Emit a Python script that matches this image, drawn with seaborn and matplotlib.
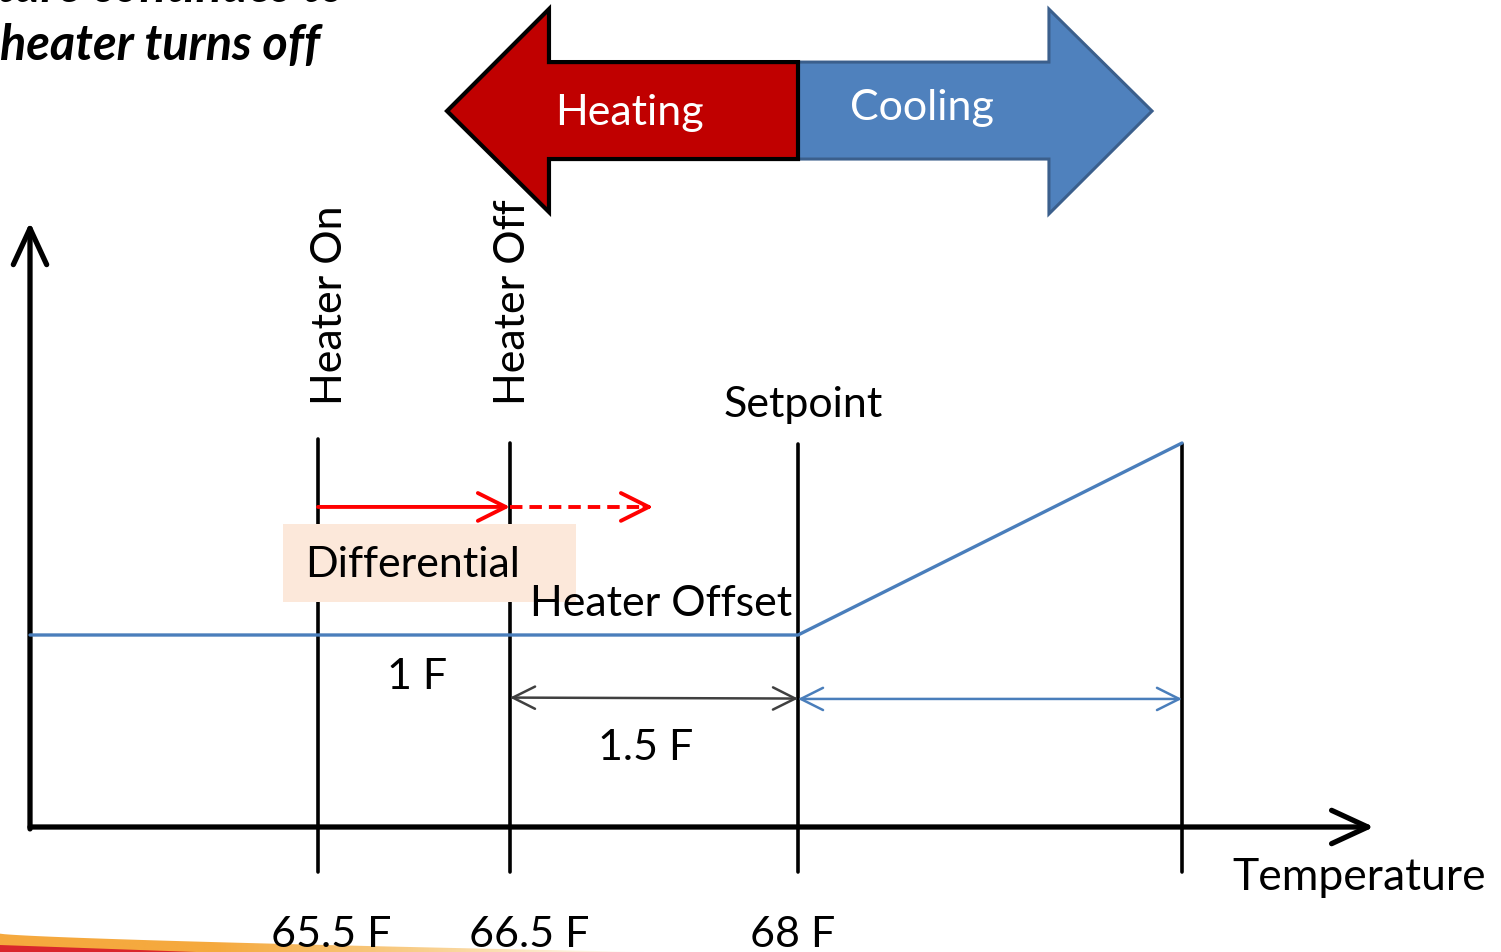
import numpy as np
import pandas as pd
import matplotlib
matplotlib.use("Agg")
import matplotlib.pyplot as plt
from matplotlib.patches import Polygon, Rectangle
from matplotlib.colors import LinearSegmentedColormap
import seaborn as sns

# temperatures on the x axis (F)
heater_on = 65.5
heater_off = 66.5
setpoint = 68.0
cooling_end = 70.0
axis_start = 64.0
axis_end = 71.0

# cooling output curve (flat, then rising after setpoint)
curve_temp = [axis_start, setpoint, cooling_end]
curve_output = [1.0, 1.0, 2.0]

marker_temps = [heater_on, heater_off, setpoint, cooling_end]
tick_labels = ["65.5 F", "66.5 F", "68 F"]
tick_label_x = [65.57, 66.6, 67.97]

# span labels
differential_label = "1 F"
offset_label = "1.5 F"

FONT = "Lato"
FS = 31

sns.set_style("white")
plt.rcParams["font.family"] = [FONT, "DejaVu Sans"]
plt.rcParams["text.color"] = "black"

fig = plt.figure(figsize=(15.01, 9.53), dpi=100)
ax = fig.add_axes([0, 0, 1, 1])
ax.set_xlim(63.84375, 71.66146)
ax.set_ylim(-0.65104, 4.3125)
ax.axis("off")

# decorative swoosh bottom-left (orange fading to white, red underneath)
sx = np.linspace(63.84, 67.2, 120)
top = -0.555 - 0.096 * ((sx - 63.84) / 3.36) ** 0.7
swoosh = Polygon(np.column_stack([np.r_[sx, sx[::-1]], np.r_[top, np.full_like(sx, -0.66)]]),
                 closed=True, facecolor="none", edgecolor="none")
ax.add_patch(swoosh)
cmap = LinearSegmentedColormap.from_list("swoosh", ["#F5A93E", "#F5A93E", "#F9D08E", "#FFFFFF"])
grad = ax.imshow(np.linspace(0, 1, 256)[None, :], cmap=cmap, aspect="auto",
                 extent=(63.84, 67.2, -0.66, -0.55), zorder=0)
grad.set_clip_path(swoosh)
sx3 = np.linspace(63.84, 65.1, 40)
top3 = -0.612 - 0.045 * ((sx3 - 63.84) / 1.26)
ax.fill_between(sx3, top3, -0.66, color="#D9262C", lw=0, zorder=1)
ax.set_xlim(63.84375, 71.66146)
ax.set_ylim(-0.65104, 4.3125)

# axes with arrows
axis_arrow = dict(arrowstyle="->,head_length=1.3,head_width=0.6",
                  lw=3.8, color="black", mutation_scale=20,
                  capstyle="round", joinstyle="round", shrinkA=0, shrinkB=0)
ax.annotate("", xy=(axis_end, 0), xytext=(axis_start, 0), arrowprops=axis_arrow)
ax.annotate("", xy=(axis_start, 3.15), xytext=(axis_start, -0.01), arrowprops=axis_arrow)

# vertical marker lines
tops = [2.02, 2.0, 1.995, 1.995]
for t, yt in zip(marker_temps, tops):
    ax.plot([t, t], [-0.234, yt], color="black", lw=2.6, zorder=3)

# output curve
df = pd.DataFrame({"temp": curve_temp, "output": curve_output})
sns.lineplot(data=df, x="temp", y="output", color="#4A7EBB", lw=2.4, ax=ax, zorder=4)

# differential box
ax.add_patch(Rectangle((65.318, 1.172), 66.844 - 65.318, 1.578 - 1.172,
                       facecolor="#FCE8DA", edgecolor="none", zorder=5))
ax.text(65.432, 1.37, "Differential", fontsize=FS, ha="left", va="center", zorder=6)

# red arrows
red_head = dict(arrowstyle="->,head_length=1.0,head_width=0.5", lw=2.8,
                color="#FF0000", mutation_scale=20, shrinkA=0, shrinkB=0,
                capstyle="round", joinstyle="round")
ax.annotate("", xy=(heater_off, 1.667), xytext=(heater_on, 1.667),
            arrowprops=red_head, zorder=6)
ax.plot([heater_off, 67.2], [1.667, 1.667], color="#FF0000", lw=2.8,
        linestyle=(0, (3.2, 1.8)), zorder=6)
ax.annotate("", xy=(67.245, 1.667), xytext=(67.2, 1.667),
            arrowprops=red_head, zorder=6)

# span arrows
ax.annotate("", xy=(setpoint, 0.669), xytext=(heater_off, 0.674),
            arrowprops=dict(arrowstyle="<->,head_length=0.8,head_width=0.4", lw=1.8,
                            color="#404040", mutation_scale=20, shrinkA=0, shrinkB=0))
ax.annotate("", xy=(cooling_end, 0.667), xytext=(setpoint, 0.667),
            arrowprops=dict(arrowstyle="<->,head_length=0.8,head_width=0.4", lw=1.8,
                            color="#4A7EBB", mutation_scale=20, shrinkA=0, shrinkB=0))

# big heating / cooling arrows
cool_x = [68.0, 69.307, 69.307, 69.844, 69.307, 69.307, 68.0]
cool_y = [3.984, 3.984, 4.26, 3.729, 3.193, 3.479, 3.479]
heat_x = [66.172, 66.703, 66.703, 68.0, 68.0, 66.703, 66.703]
heat_y = [3.729, 4.26, 3.984, 3.984, 3.479, 3.479, 3.203]
ax.add_patch(Polygon(np.column_stack([cool_x, cool_y]), closed=True,
                     facecolor="#4F81BD", edgecolor="#3B5F8C", lw=2.2, zorder=5))
ax.add_patch(Polygon(np.column_stack([heat_x, heat_y]), closed=True,
                     facecolor="#C00000", edgecolor="black", lw=3.0, zorder=6,
                     joinstyle="miter"))
ax.text(67.12, 3.725, "Heating", fontsize=FS, color="white", ha="center", va="center", zorder=7)
ax.text(68.646, 3.75, "Cooling", fontsize=FS, color="white", ha="center", va="center", zorder=7)

# labels
ax.text(65.5625, 2.203, "Heater On", fontsize=FS, rotation=90, ha="center", va="bottom")
ax.text(66.516, 2.203, "Heater Off", fontsize=FS, rotation=90, ha="center", va="bottom")
ax.text(68.026, 2.203, "Setpoint", fontsize=FS, ha="center", va="center")
ax.text(66.604, 1.165, "Heater Offset", fontsize=FS, ha="left", va="center", zorder=8)
ax.text(66.016, 0.786, differential_label, fontsize=FS, ha="center", va="center")
ax.text(67.208, 0.417, offset_label, fontsize=FS, ha="center", va="center")
ax.text(70.262, -0.26, "Temperature", fontsize=FS + 1, ha="left", va="center")
for lx, lab in zip(tick_label_x, tick_labels):
    ax.text(lx, -0.555, lab, fontsize=FS, ha="center", va="center", zorder=9)

# cut-off slide text at top-left
ax.text(65.64, 4.30, "Temperature continues to", fontsize=35, fontweight="bold",
        fontstyle="italic", ha="right", va="baseline")
ax.text(63.844, 4.078, "heater turns off", fontsize=35, fontweight="bold",
        fontstyle="italic", ha="left", va="center")

fig.savefig("out.png", dpi=100)
